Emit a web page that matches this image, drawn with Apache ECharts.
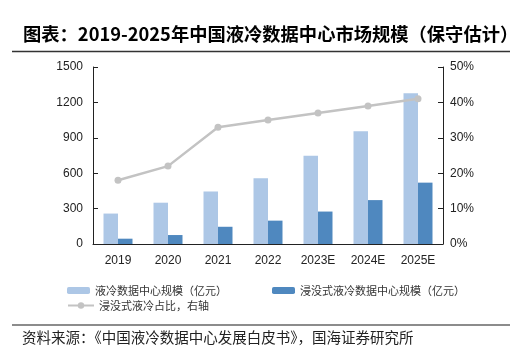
<!DOCTYPE html>
<html>
<head>
<meta charset="utf-8">
<script src="https://cdn.jsdelivr.net/npm/echarts@6/dist/echarts.min.js"></script>
<style>
html, body { margin: 0; padding: 0; background: #fff; }
#main { width: 530px; height: 350px; }
</style>
</head>
<body>
<div id="main"></div>
<script>
var years = ['2019', '2020', '2021', '2022', '2023E', '2024E', '2025E'];
var liquidScale = [258, 350, 445, 558, 748, 955, 1278];
var immersionScale = [45, 76, 146, 198, 275, 372, 520];
var immersionShare = [18, 22, 33, 35, 37, 39, 41];

var nameLiquid = '液冷数据中心规模（亿元）';
var nameImmersion = '浸没式液冷数据中心规模（亿元）';
var nameShare = '浸没式液冷占比，右轴';

var font = '"Noto Sans CJK SC", "Noto Sans", sans-serif';
var numFont = '"Liberation Sans", Arial, sans-serif';

var myChart = echarts.init(document.getElementById('main'));

var option = {
    backgroundColor: '#fff',
    animation: false,
    textStyle: { fontFamily: font },
    graphic: [
        {
            type: 'text', left: 23, top: 25,
            style: { text: '图表：2019-2025年中国液冷数据中心市场规模（保守估计）', fontSize: 18.3, fontWeight: 'bold', fill: '#000', fontFamily: font }
        },
        {
            type: 'line', shape: { x1: 12, y1: 51.5, x2: 510, y2: 51.5 },
            style: { stroke: '#333', lineWidth: 1.5 }
        },
        {
            type: 'line', shape: { x1: 12, y1: 325, x2: 510, y2: 325 },
            style: { stroke: '#666', lineWidth: 1.5 }
        },
        {
            type: 'text', left: 22, top: 330,
            style: { text: '资料来源：《中国液冷数据中心发展白皮书》，国海证券研究所', fontSize: 14.5, fill: '#222', fontFamily: font }
        }
    ],
    grid: { left: 93, right: 87, top: 67, bottom: 106 },
    legend: [
        {
            data: [nameLiquid], left: 62, top: 280, itemWidth: 23, itemHeight: 7,
            textStyle: { fontSize: 11, color: '#333' }
        },
        {
            data: [nameImmersion], left: 267, top: 280, itemWidth: 23, itemHeight: 7,
            textStyle: { fontSize: 11, color: '#333' }
        },
        {
            data: [nameShare], left: 62, top: 295, itemWidth: 26, itemHeight: 8,
            textStyle: { fontSize: 11, color: '#333' }
        }
    ],
    xAxis: {
        type: 'category',
        data: years,
        axisLine: { lineStyle: { color: '#222', width: 1 } },
        axisTick: { inside: true, length: 5, lineStyle: { color: '#222' } },
        axisLabel: { color: '#222', fontSize: 12, margin: 11, fontFamily: numFont }
    },
    yAxis: [
        {
            type: 'value', min: 0, max: 1500, interval: 300,
            axisLine: { show: true, lineStyle: { color: '#222' } },
            axisTick: { show: true, inside: true, length: 5, lineStyle: { color: '#222' } },
            axisLabel: {
                color: '#222', fontSize: 12, margin: 10, fontFamily: numFont,
                formatter: function (v) { return String(v); }
            },
            splitLine: { show: false }
        },
        {
            type: 'value', min: 0, max: 50, interval: 10,
            axisLine: { show: true, lineStyle: { color: '#222' } },
            axisTick: { show: true, inside: true, length: 5, lineStyle: { color: '#222' } },
            axisLabel: { color: '#222', fontSize: 12, margin: 7, fontFamily: numFont, formatter: '{value}%' },
            splitLine: { show: false }
        }
    ],
    series: [
        {
            name: nameLiquid, type: 'bar', data: liquidScale,
            barWidth: 14.5, barGap: '0%',
            itemStyle: { color: '#adc7e6' }
        },
        {
            name: nameImmersion, type: 'bar', data: immersionScale,
            barWidth: 14.5, barGap: '0%',
            itemStyle: { color: '#4f88bf' }
        },
        {
            name: nameShare, type: 'line', yAxisIndex: 1, data: immersionShare,
            symbol: 'circle', symbolSize: 7,
            lineStyle: { color: '#c3c3c3', width: 2.5 },
            itemStyle: { color: '#c3c3c3' }
        }
    ]
};

myChart.setOption(option);
</script>
</body>
</html>
